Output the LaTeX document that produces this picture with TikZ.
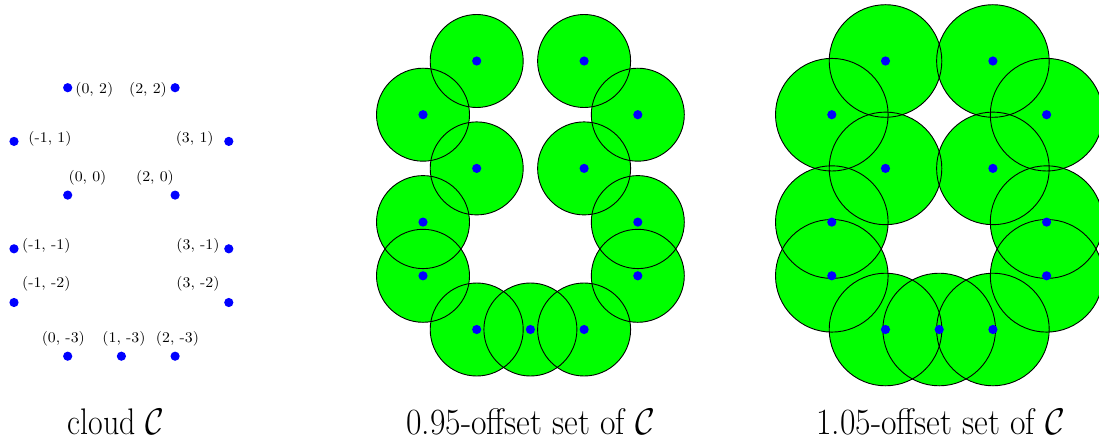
\documentclass[tikz,border=0pt]{standalone}
\usepackage{graphicx}
\usetikzlibrary{calc}
\DeclareFontFamily{OMS}{cmsy}{\skewchar\font48 }
\DeclareFontShape{OMS}{cmsy}{m}{n}{<->cmsy10}{}
\definecolor{offgreen}{RGB}{0,255,0}
\definecolor{ptblue}{RGB}{0,0,255}
\newcommand{\ptlab}[1]{\scalebox{1.58}[1.48]{#1}}
\tikzset{
  pt/.style={circle, fill=ptblue, inner sep=0pt, minimum size=9.2pt},
  ball/.style={fill=offgreen},
  rim/.style={draw=black, line width=0.9pt},
  lbl/.style={font=\fontsize{10}{12}\selectfont, inner sep=0pt},
  capt/.style={font=\fontsize{37}{44}\selectfont, inner sep=0pt, anchor=base},
}
\begin{document}
\begin{tikzpicture}[x=1pt,y=-1pt]
\useasboundingbox (0,0) rectangle (1099,441);
\def\U{53.7}
\def\pts{0/2/a, 2/2/b, -1/1/c, 3/1/d, 0/0/e, 2/0/f, -1/-1/g, 3/-1/h, -1/-2/i, 3/-2/j, 0/-3/k, 1/-3/l, 2/-3/m}

% ---- cloud
\foreach \i/\j/\n in \pts {
  \node[pt] (l\n) at ({67.7+\U*\i},{195.1-\U*\j}) {};
}
\node[lbl] (ta) at (94.3,90.3) {\ptlab{(0, 2)}};
\node[lbl] (tb) at (148,90.3) {\ptlab{(2, 2)}};
\node[lbl] (tc) at (50,138.5) {\ptlab{(-1, 1)}};
\node[lbl] (td) at (194.7,138.5) {\ptlab{(3, 1)}};
\node[lbl] (te) at (87.5,177.5) {\ptlab{(0, 0)}};
\node[lbl] (tf) at (155,177.5) {\ptlab{(2, 0)}};
\node[lbl] (tg) at (46.3,245.8) {\ptlab{(-1, -1)}};
\node[lbl] (th) at (198,245.8) {\ptlab{(3, -1)}};
\node[lbl] (ti) at (46.3,284.2) {\ptlab{(-1, -2)}};
\node[lbl] (tj) at (198,284.2) {\ptlab{(3, -2)}};
\node[lbl] (tk) at (63.3,338.5) {\ptlab{(0, -3)}};
\node[lbl] (tl) at (124,338.5) {\ptlab{(1, -3)}};
\node[lbl] (tm) at (177.5,338.5) {\ptlab{(2, -3)}};

% ---- 0.95 offset
\foreach \i/\j/\n in \pts {
  \fill[ball] ({476.7+\U*\i},{168.4-\U*\j}) circle[radius=46.5];
}
\foreach \i/\j/\n in \pts {
  \draw[rim] ({476.7+\U*\i},{168.4-\U*\j}) circle[radius=46.5];
}
\foreach \i/\j/\n in \pts {
  \node[pt] (m\n) at ({476.7+\U*\i},{168.4-\U*\j}) {};
}

% ---- 1.05 offset
\foreach \i/\j/\n in \pts {
  \fill[ball] ({885.5+\U*\i},{168.4-\U*\j}) circle[radius=56.3];
}
\foreach \i/\j/\n in \pts {
  \draw[rim] ({885.5+\U*\i},{168.4-\U*\j}) circle[radius=56.3];
}
\foreach \i/\j/\n in \pts {
  \node[pt] (r\n) at ({885.5+\U*\i},{168.4-\U*\j}) {};
}

% ---- captions
\node[capt] (capA) at (115.8,434.3) {\scalebox{0.86}[1]{cloud $\mathcal{C}$}};
\node[capt] (capB) at (530.5,434.3) {\scalebox{0.91}[1]{0.95-offset set of $\mathcal{C}$}};
\node[capt] (capC) at (940.5,434.3) {\scalebox{0.91}[1]{1.05-offset set of $\mathcal{C}$}};
\end{tikzpicture}
\end{document}
